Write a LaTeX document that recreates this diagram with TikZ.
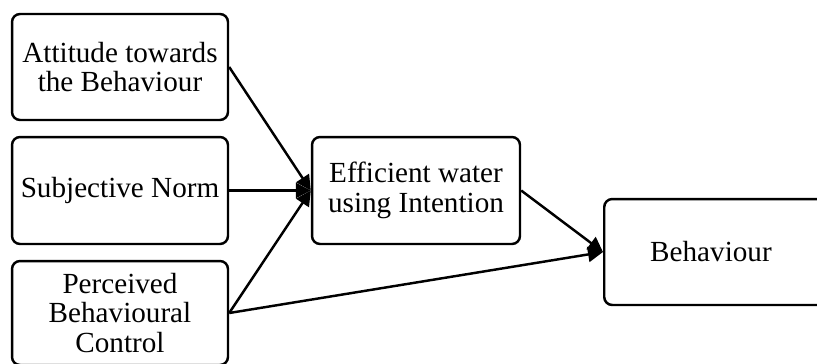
\documentclass[tikz,border=0pt]{standalone}
\usepackage{fontspec}
\setmainfont{Liberation Serif}
\usetikzlibrary{arrows.meta}
\usetikzlibrary{positioning}

\begin{document}
\begin{tikzpicture}[x=0.02cm,y=-0.02cm,line width=1.4pt,
    factor/.style={draw,rounded corners=0.16cm,align=center,inner sep=0pt,
      font=\fontsize{16.6}{16.8}\selectfont},
    link/.style={-{Triangle[length=0.3cm,width=0.3cm]}}]

  % frame of the picture
  \useasboundingbox (0,0) rectangle (817,363);
  \clip (0,0) rectangle (817,363);

  % the three predictors
  \node[factor,minimum width=4.32cm,minimum height=2.12cm] (att) at (120,67)
    {Attitude towards\\the Behaviour};
  \node[factor,minimum width=4.32cm,minimum height=2.14cm] (norm) at (120,190.5)
    {Subjective Norm};
  \node[factor,minimum width=4.32cm,minimum height=2.08cm] (pbc) at (120,313)
    {Perceived\\Behavioural\\Control};

  % intention and behaviour
  \node[factor,minimum width=4.16cm,minimum height=2.14cm] (intent) at (416,190.5)
    {Efficient water\\using Intention};
  \node[factor,anchor=west,minimum height=2.12cm,inner xsep=0.92cm,
    text width=3.0cm,align=left] (behav) at (603,252) {Behaviour};

  % paths
  \draw[link] (att.east) -- (intent.west);
  \draw[link] (norm.east) -- (intent.west);
  \draw[link] (pbc.east) -- (intent.west);
  \draw[link] (intent.east) -- (behav.west);
  \draw[link] (pbc.east) -- (behav.west);

\end{tikzpicture}
\end{document}
